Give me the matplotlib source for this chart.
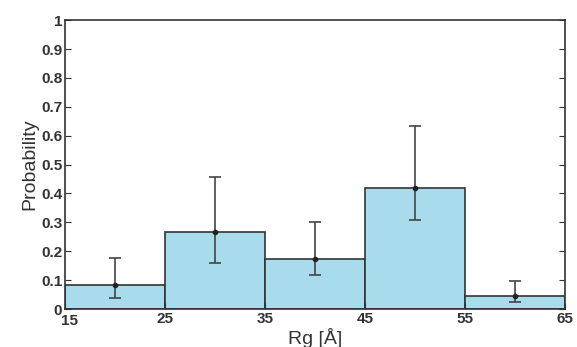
import matplotlib
matplotlib.use('Agg')
import matplotlib.pyplot as plt
import matplotlib.transforms as mtransforms
import numpy as np

# histogram of Rg with error bars
bin_edges = [15, 25, 35, 45, 55, 65]
prob = [0.083, 0.266, 0.174, 0.418, 0.046]
err_low = [0.037, 0.160, 0.116, 0.308, 0.025]
err_high = [0.175, 0.457, 0.301, 0.635, 0.097]
x_ticks = [15, 25, 35, 45, 55, 65]
y_ticks = [0, 0.1, 0.2, 0.3, 0.4, 0.5, 0.6, 0.7, 0.8, 0.9, 1]
y_ticklabels = ['0', '0.1', '0.2', '0.3', '0.4', '0.5', '0.6', '0.7', '0.8', '0.9', '1']

plt.rcParams['font.family'] = ['Liberation Sans', 'DejaVu Sans']

fig = plt.figure(figsize=(5.77, 3.47), dpi=100)
ax = fig.add_axes([0.1127, 0.1095, 0.8663, 0.8325])

edges = np.array(bin_edges)
centers = (edges[:-1] + edges[1:]) / 2
widths = np.diff(edges)
p = np.array(prob)

ax.bar(centers, p, width=widths, color='#a8dbec', edgecolor='#333333', linewidth=1.2)
ax.errorbar(centers, p, yerr=[p - np.array(err_low), np.array(err_high) - p],
            fmt='o', color='#222222', ecolor='#444444', markersize=3,
            elinewidth=1.2, capsize=4, capthick=1.2)

ax.set_xlim(15, 65)
ax.set_ylim(0, 1)
ax.set_xticks(x_ticks)
ax.set_yticks(y_ticks)
ax.set_yticklabels(y_ticklabels)
ax.tick_params(direction='in', top=False, right=True, length=4, labelsize=11, colors='#333333', pad=2)
for lbl in ax.get_xticklabels() + ax.get_yticklabels():
    lbl.set_fontweight('bold')
# nudge the first x label so it sits beside the "0" like the original
first = ax.get_xticklabels()[0]
first.set_transform(first.get_transform() + mtransforms.ScaledTranslation(4 / 100, -2 / 100, fig.dpi_scale_trans))
for s in ax.spines.values():
    s.set_color('#333333')
    s.set_linewidth(1.2)

ax.set_xlabel('Rg [Å]', fontsize=14, color='#333333', labelpad=0)
ax.set_ylabel('Probability', fontsize=14, color='#333333', labelpad=2)

fig.savefig('out.png', dpi=100)
